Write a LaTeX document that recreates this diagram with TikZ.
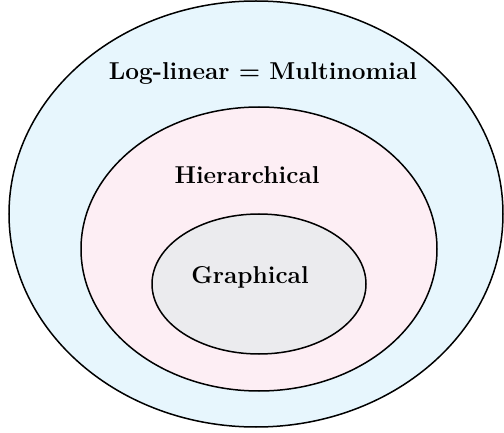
\documentclass[tikz,border=0pt]{standalone}
\begin{document}
\begin{tikzpicture}[x=1pt,y=-1pt,
  ring/.style={draw=black,line width=1.5pt},
  lbl/.style={font=\fontsize{24.4}{28}\selectfont\bfseries,inner sep=0pt}]
\definecolor{outerc}{HTML}{E7F6FD}
\definecolor{midc}{HTML}{FDEEF4}
\definecolor{innerc}{HTML}{EBEBEE}
\useasboundingbox (0,0) rectangle (504,433);
\draw[ring,fill=outerc] (256,214) ellipse [x radius=247, y radius=213];
\draw[ring,fill=midc] (259,249) ellipse [x radius=178, y radius=142];
\draw[ring,fill=innerc] (259,284) ellipse [x radius=107, y radius=70];
\node[lbl] (loglin) at (263,73) {Log-linear = Multinomial};
\node[lbl] (hier) at (247,175) {Hierarchical};
\node[lbl] (graph) at (250,277) {Graphical};
\end{tikzpicture}
\end{document}
